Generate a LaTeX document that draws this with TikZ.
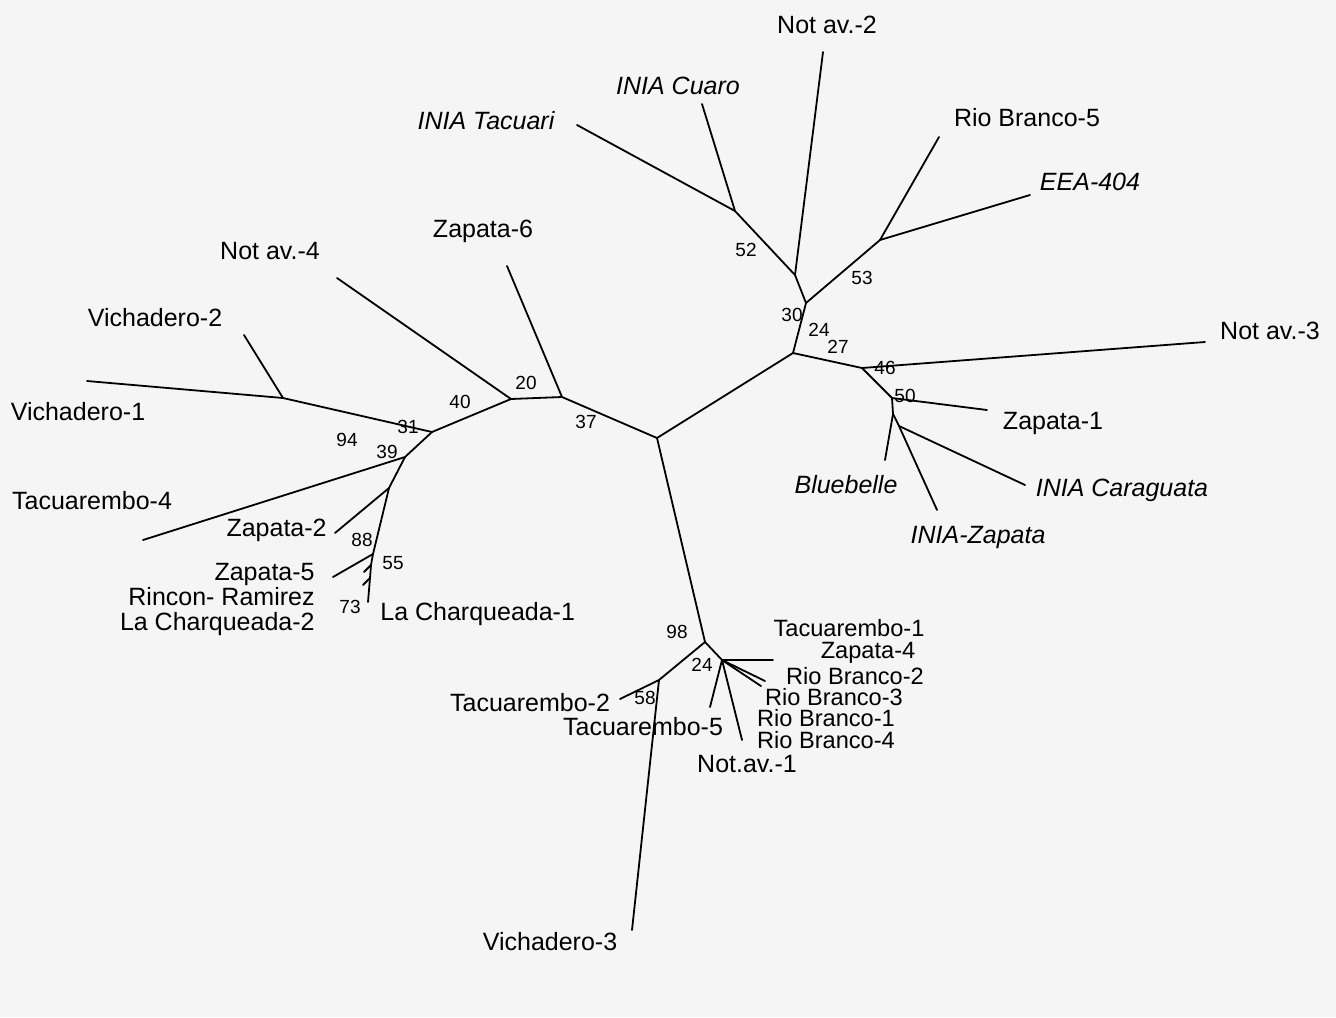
\documentclass[tikz,border=0pt]{standalone}
\usepackage{fontspec}
\setmainfont{Liberation Sans}
\definecolor{paper}{RGB}{245,245,245}
\begin{document}
\begin{tikzpicture}[x=0.5pt, y=-0.5pt,
    branch/.style={line width=0.9pt, line cap=round},
    taxon/.style={font=\fontsize{12.5}{13}\selectfont, inner sep=0pt},
    tight/.style={font=\fontsize{11.8}{12}\selectfont, inner sep=0pt},
    boot/.style={font=\fontsize{9.5}{10}\selectfont, inner sep=0pt}]
  \fill[paper] (0,0) rectangle (1336,1017);
  \useasboundingbox (0,0) rectangle (1336,1017);

  % inner nodes of the tree
  \coordinate (c0) at (657,438);
  \coordinate (nR) at (793,353);
  \coordinate (n30) at (806,303);
  \coordinate (nNa) at (795,275);
  \coordinate (n52) at (735,211);
  \coordinate (n53) at (880,240);
  \coordinate (n46) at (862,368);
  \coordinate (n50) at (892,398);
  \coordinate (nBl) at (893,414);
  \coordinate (nCa) at (899,426);
  \coordinate (n37) at (562,397);
  \coordinate (n20) at (511,399);
  \coordinate (n31) at (432,432);
  \coordinate (nVi) at (283,398);
  \coordinate (n39) at (405,457);
  \coordinate (nZ2) at (389,488);
  \coordinate (n55) at (373,554);
  \coordinate (nT1) at (371,565);
  \coordinate (nT2) at (370,578);
  \coordinate (n98) at (705,642);
  \coordinate (n58) at (659,680);
  \coordinate (n24) at (722,660);

  % leaves
  \coordinate (tTacuari) at (577,125);
  \coordinate (tCuaro) at (702,104);
  \coordinate (tNa2) at (823,52);
  \coordinate (tRB5) at (939,137);
  \coordinate (tEEA) at (1030,195);
  \coordinate (tNa3) at (1205,342);
  \coordinate (tZap1) at (987,410);
  \coordinate (tBlue) at (885,460);
  \coordinate (tIZap) at (937,510);
  \coordinate (tCarag) at (1025,485);
  \coordinate (tZap6) at (507,266);
  \coordinate (tNa4) at (337,278);
  \coordinate (tVi2) at (244,335);
  \coordinate (tVi1) at (87,381);
  \coordinate (tTac4) at (143,540);
  \coordinate (tZap2) at (335,533);
  \coordinate (tZap5) at (333,577);
  \coordinate (tRR) at (364,572);
  \coordinate (tLC2) at (363,585);
  \coordinate (tLC1) at (368,602);
  \coordinate (tTac2) at (620,699);
  \coordinate (tVi3) at (632,930);
  \coordinate (tTac1) at (773,660);
  \coordinate (tZap4) at (765,681);
  \coordinate (tRB2) at (761,686);
  \coordinate (tNa1) at (710,707);
  \coordinate (tRB4) at (742,740);

  % branches
  \draw[branch] (c0) -- (nR) -- (n30) -- (nNa) -- (n52) -- (tTacuari);
  \draw[branch] (n52) -- (tCuaro);
  \draw[branch] (nNa) -- (tNa2);
  \draw[branch] (n30) -- (n53) -- (tRB5);
  \draw[branch] (n53) -- (tEEA);
  \draw[branch] (nR) -- (n46) -- (tNa3);
  \draw[branch] (n46) -- (n50) -- (tZap1);
  \draw[branch] (n50) -- (nBl) -- (tBlue);
  \draw[branch] (nBl) -- (nCa) -- (tIZap);
  \draw[branch] (nCa) -- (tCarag);
  \draw[branch] (c0) -- (n37) -- (tZap6);
  \draw[branch] (n37) -- (n20) -- (tNa4);
  \draw[branch] (n20) -- (n31) -- (nVi) -- (tVi1);
  \draw[branch] (nVi) -- (tVi2);
  \draw[branch] (n31) -- (n39) -- (tTac4);
  \draw[branch] (n39) -- (nZ2) -- (tZap2);
  \draw[branch] (nZ2) -- (n55) -- (tZap5);
  \draw[branch] (n55) -- (nT1) -- (nT2) -- (tLC1);
  \draw[branch] (nT1) -- (tRR);
  \draw[branch] (nT2) -- (tLC2);
  \draw[branch] (c0) -- (n98) -- (n58) -- (tTac2);
  \draw[branch] (n58) -- (tVi3);
  \draw[branch] (n98) -- (n24) -- (tTac1);
  \draw[branch] (n24) -- (tZap4);
  \draw[branch] (n24) -- (tRB2);
  \draw[branch] (n24) -- (tNa1);
  \draw[branch] (n24) -- (tRB4);

  % taxa
  \node[taxon] (lNa2) at (827,25) {Not av.-2};
  \node[taxon] (lCuaro) at (678,86) {\itshape INIA Cuaro};
  \node[taxon] (lTacuari) at (486,121) {\itshape INIA Tacuari};
  \node[taxon] (lRB5) at (1027,118) {Rio Branco-5};
  \node[taxon] (lEEA) at (1090,182) {\itshape EEA-404};
  \node[taxon] (lNa3) at (1270,331) {Not av.-3};
  \node[taxon] (lZap1) at (1053,423) {Zapata-1};
  \node[taxon] (lBlue) at (846,485) {\itshape Bluebelle};
  \node[taxon] (lCarag) at (1122,490) {\itshape INIA Caraguata};
  \node[taxon] (lIZap) at (978,537) {\itshape INIA-Zapata};
  \node[taxon] (lZap6) at (483,231) {Zapata-6};
  \node[taxon] (lNa4) at (270,251) {Not av.-4};
  \node[taxon] (lVi2) at (155,318) {Vichadero-2};
  \node[taxon] (lVi1) at (78,412) {Vichadero-1};
  \node[taxon] (lTac4) at (92,501) {Tacuarembo-4};
  \node[taxon, anchor=east] (lZap2) at (327,530) {Zapata-2};
  \node[taxon, anchor=east] (lZap5) at (315,574) {Zapata-5};
  \node[taxon, anchor=east] (lRR) at (315,597) {Rincon- Ramirez};
  \node[taxon, anchor=east] (lLC2) at (315,624) {La Charqueada-2};
  \node[taxon, anchor=west] (lLC1) at (380,614) {La Charqueada-1};
  \node[tight] (lTac1) at (849,628) {Tacuarembo-1};
  \node[tight] (lZap4) at (868,653) {Zapata-4};
  \node[tight] (lRB2) at (855,676) {Rio Branco-2};
  \node[tight] (lRB3) at (834,697) {Rio Branco-3};
  \node[tight] (lRB1) at (826,718) {Rio Branco-1};
  \node[tight] (lRB4) at (826,740) {Rio Branco-4};
  \node[taxon] (lNa1) at (747,764) {Not.av.-1};
  \node[taxon] (lTac2) at (530,703) {Tacuarembo-2};
  \node[taxon] (lTac5) at (643,727) {Tacuarembo-5};
  \node[taxon] (lVi3) at (550,942) {Vichadero-3};

  % bootstrap values
  \node[boot] (b52) at (746,250) {52};
  \node[boot] (b53) at (862,278) {53};
  \node[boot] (b30) at (792,315) {30};
  \node[boot] (b24a) at (819,330) {24};
  \node[boot] (b27) at (838,347) {27};
  \node[boot] (b46) at (885,368) {46};
  \node[boot] (b50) at (905,396) {50};
  \node[boot] (b20) at (526,383) {20};
  \node[boot] (b40) at (460,402) {40};
  \node[boot] (b37) at (586,422) {37};
  \node[boot] (b31) at (408,427) {31};
  \node[boot] (b94) at (347,440) {94};
  \node[boot] (b39) at (387,452) {39};
  \node[boot] (b88) at (362,540) {88};
  \node[boot] (b55) at (393,563) {55};
  \node[boot] (b73) at (350,607) {73};
  \node[boot] (b98) at (677,632) {98};
  \node[boot] (b24b) at (702,665) {24};
  \node[boot] (b58) at (645,698) {58};
\end{tikzpicture}
\end{document}
